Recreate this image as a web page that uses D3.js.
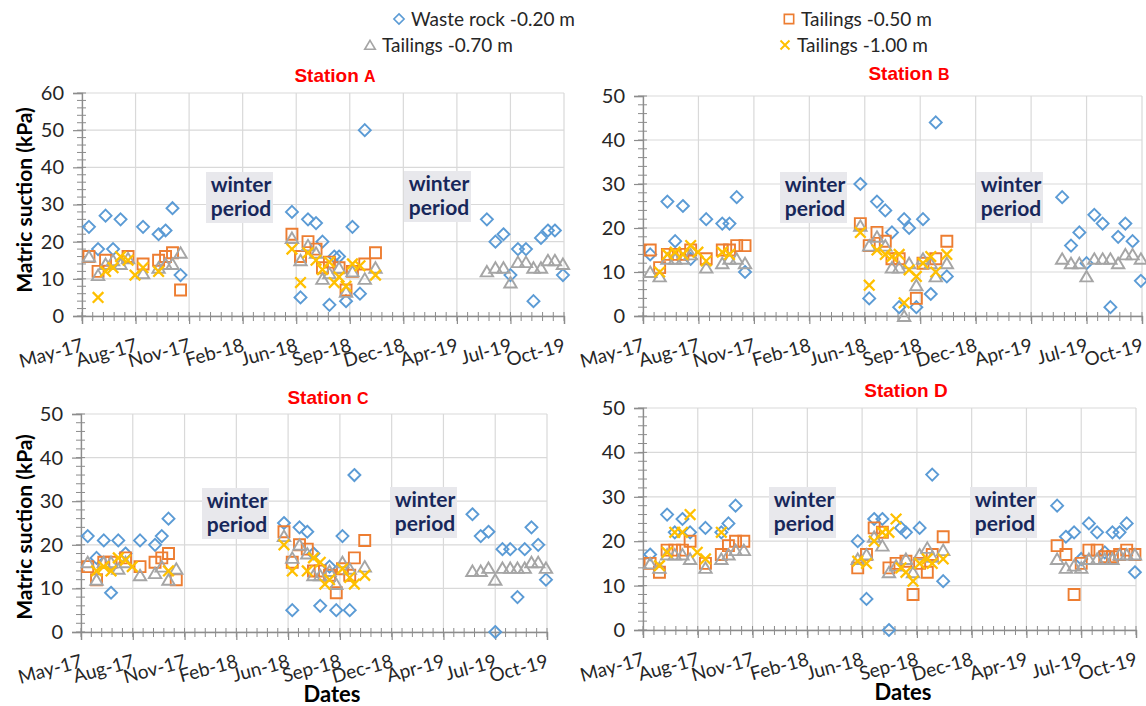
<!DOCTYPE html>
<html><head><meta charset="utf-8">
<script src="https://cdn.jsdelivr.net/npm/d3@7"></script>
<style>body{margin:0;background:#fff} svg{display:block}</style>
</head><body>
<svg id="chart" width="1146" height="706"></svg>
<script>
// ---------- DATA ----------
const seriesNames = ["Waste rock -0.20 m", "Tailings -0.50 m", "Tailings -0.70 m", "Tailings -1.00 m"];
const tickLabels = ["May-17","Aug-17","Nov-17","Feb-18","Jun-18","Sep-18","Dec-18","Apr-19","Jul-19","Oct-19"];
const tickDates = ["2017-05-01","2017-08-09","2017-11-17","2018-02-25","2018-06-05","2018-09-13","2018-12-22","2019-04-01","2019-07-10","2019-10-18"];
const dates = [
 "2017-05-14","2017-05-31","2017-06-14","2017-06-28","2017-07-12","2017-07-26","2017-08-08","2017-08-23","2017-09-21","2017-10-04","2017-10-17","2017-11-01",
 "2018-05-28","2018-06-13","2018-06-27","2018-07-12","2018-07-24","2018-08-06","2018-08-15","2018-08-24","2018-09-06","2018-09-18","2018-10-02","2018-10-11","2018-10-31",
 "2019-05-27","2019-06-12","2019-06-27","2019-07-10","2019-07-24","2019-08-08","2019-08-22","2019-09-05","2019-09-18","2019-10-01","2019-10-16"];
const _ = null;
// Station A
const stationA_waste = [24,18,27,18,26,_,_,24,22,23,29,11, 28,5,26,25,20,3,16,16,4,24,6,50,_, 26,20,22,11,18,18,4,21,23,23,11];
const stationA_t050  = [16,12,15,_,_,16,_,14,15,16,17,7, 22,16,20,18,13,14.5,_,13,7,12,_,14,17, _,_,_,_,_,_,_,_,_,_,_];
const stationA_t070  = [16,11,14,15,14,15.5,_,11.5,13,14,14,17, 21,15,19,17,10,11.5,_,13,6.5,12,_,10,13, 12,13,13,9,14.5,14.5,13,13,15,15,14];
const stationA_t100  = [_,5,12,13,16,15,11,13,12,_,_,_, 18,9,17,15,12.5,14.5,9,10.5,8,14,13.5,_,11, _,_,_,_,_,_,_,_,_,_,_];
// Station B
const stationB_waste = [14,_,26,17,25,13,_,22,21,21,27,10, 30,4,26,24,19,2,22,20,2,22,5,44,9, 27,16,19,12,23,21,2,18,21,17,8];
const stationB_t050  = [15,11,14,14,14,15,_,13,15,15,16,16, 21,16,19,17,13,13,_,_,4,12,_,13,17, _,_,_,_,_,_,_,_,_,_,_];
const stationB_t070  = [10,9,13,13,13,14,_,11,12,13,13,12, 20.5,16,18,16,11,11,0,12,7,13,12,9,12, 13,12,12,9,13,13,13,12,14,14,13];
const stationB_t100  = [_,10,14,14.5,14,16,14.5,12.5,14.5,14,_,_, 19,7,15,14,13.5,14,3,10.5,9,12,13.5,10,14, _,_,_,_,_,_,_,_,_,_,_];
// Station C
const stationC_waste = [22,17,21,9,21,18,_,21,20,22,26,_, 25,5,24,23,18,6,_,15,5,22,5,36,_, 27,22,23,0,19,19,8,19,24,20,12];
const stationC_t050  = [15,12,16,16,_,17,_,15,16,17,18,12, 23,16,20,19,14,14,_,13,9,14.5,13,17,21, _,_,_,_,_,_,_,_,_,_,_];
const stationC_t070  = [16,12,16,16,14.5,16,_,13,13.5,15,12,14.5, 22,17,20,18,13,13,_,14,11,16,14.5,_,15, 14,14,14.7,12,14.7,14.7,14.7,14.7,16,16,14.7];
const stationC_t100  = [_,14,15,14,17,16.5,15,_,_,_,14,_, 20,14,_,14,17,16,11,12,_,14.5,12.5,11,13, _,_,_,_,_,_,_,_,_,_,_];
// Station D
const stationD_waste = [17,_,26,22,25,22,_,23,22,24,28,_, 20,7,25,25,0,_,23,22,_,23,_,35,11, 28,21,22,16,24,22,17.5,22,22,24,13];
const stationD_t050  = [15,13,18,18,18,20,_,15,17,19,20,20, 14,17,23,22,14,15,_,15.5,8,15,13,17,21, 19,17,8,15,18,18,16.5,16.5,17,18,17];
const stationD_t070  = [15,14,17,17,17,16,_,14,16,17,18,18, 16,17,21,19,13,14.5,_,16,13,17,18.5,16.5,18, 16,14,14.5,14,16,16,16,16,17,17,17];
const stationD_t100  = [_,14.5,17.5,22,22,26,17.5,16,22,_,_,_, 15.5,15,20,22,22,25,14,13,11,15,16,15,16, _,_,_,_,_,_,_,_,_,_,_];

// ---------- LAYOUT / STYLE ----------
const parse = d3.timeParse("%Y-%m-%d");
const colors = ["#5B9BD5", "#ED7D31", "#A5A5A5", "#FFC000"];
const shapes = ["diamond", "square", "triangle", "cross"];
const FONT = "Lato, 'Open Sans', sans-serif";
const svg = d3.select("#chart");

function markerPath(shape) {
  switch (shape) {
    case "diamond": return "M0,-6L6,0L0,6L-6,0Z";
    case "square": return "M-5.5,-5.5H5.5V5.5H-5.5Z";
    case "triangle": return "M0,-5.5L6.2,5L-6.2,5Z";
    default: return "M-5.3,-5.3L5.3,5.3M5.3,-5.3L-5.3,5.3";
  }
}
function strokeW(shape) { return shape === "cross" ? 2.3 : 1.9; }

const panels = [
  { label: "A", small: true, values: [stationA_waste, stationA_t050, stationA_t070, stationA_t100],
    left: 82, right: 564, top: 93, bottom: 316, ymax: 60, titleX: 335, titleY: 82,
    winter: [[206, 172], [404, 171]], yTitle: [25, 200], xTitle: null },
  { label: "B", small: true, values: [stationB_waste, stationB_t050, stationB_t070, stationB_t100],
    left: 643, right: 1142, top: 96, bottom: 316, ymax: 50, titleX: 909, titleY: 80,
    winter: [[780, 172], [976, 172]], yTitle: null, xTitle: null },
  { label: "C", small: true, values: [stationC_waste, stationC_t050, stationC_t070, stationC_t100],
    left: 81, right: 547, top: 414, bottom: 632, ymax: 50, titleX: 328, titleY: 404,
    winter: [[202, 488], [390, 487]], yTitle: [25, 527], xTitle: [332, 702] },
  { label: "D", small: false, values: [stationD_waste, stationD_t050, stationD_t070, stationD_t100],
    left: 643, right: 1136, top: 408, bottom: 630, ymax: 50, titleX: 906, titleY: 397,
    winter: [[769, 487], [970, 487]], yTitle: null, xTitle: [903, 700] }
];

const xStart = parse(tickDates[0]), xEnd = parse(tickDates[tickDates.length - 1]);
const tickDateObjs = tickDates.map(parse);
const minorX = d3.timeDay.range(xStart, d3.timeDay.offset(xEnd, 1), 20);

panels.forEach(p => {
  const x = d3.scaleTime().domain([xStart, xEnd]).range([p.left, p.right]);
  const y = d3.scaleLinear().domain([0, p.ymax]).range([p.bottom, p.top]);
  const g = svg.append("g");
  const majorY = d3.range(0, p.ymax + 0.01, 10);
  const minorY = d3.range(0, p.ymax + 0.01, 2);

  // grid
  g.append("g").selectAll("line").data(majorY).join("line")
    .attr("x1", p.left).attr("x2", p.right).attr("y1", d => y(d)).attr("y2", d => y(d))
    .attr("stroke", "#d9d9d9").attr("stroke-width", 1.2);
  g.append("g").selectAll("line").data(tickDateObjs).join("line")
    .attr("x1", d => x(d)).attr("x2", d => x(d)).attr("y1", p.top).attr("y2", p.bottom)
    .attr("stroke", "#d9d9d9").attr("stroke-width", 1.2);

  // y axis
  const ya = g.append("g").attr("transform", `translate(${p.left},0)`)
    .call(d3.axisLeft(y).tickValues(majorY).tickSize(9).tickPadding(9).tickFormat(d3.format("d")));
  ya.select(".domain").attr("stroke", "#8c8c8c").attr("stroke-width", 1.3);
  ya.selectAll(".tick line").attr("stroke", "#8c8c8c").attr("stroke-width", 1.2);
  ya.selectAll("text").attr("font-family", FONT).attr("font-size", 20).attr("fill", "#262626");
  g.append("g").selectAll("line").data(minorY).join("line")
    .attr("x1", p.left - 5).attr("x2", p.left + 4).attr("y1", d => y(d)).attr("y2", d => y(d))
    .attr("stroke", "#8c8c8c").attr("stroke-width", 1);

  // x axis
  const xa = g.append("g").attr("transform", `translate(0,${p.bottom})`)
    .call(d3.axisBottom(x).tickValues(tickDateObjs).tickSize(8).tickFormat((d, i) => tickLabels[i]));
  xa.select(".domain").attr("stroke", "#8c8c8c").attr("stroke-width", 1.3);
  xa.selectAll(".tick line").attr("stroke", "#8c8c8c").attr("stroke-width", 1.2);
  xa.selectAll("text").attr("font-family", FONT).attr("font-size", 19).attr("fill", "#262626")
    .attr("text-anchor", "end").attr("y", 0).attr("dy", 0)
    .attr("transform", "translate(2,35) rotate(-15)");
  g.append("g").selectAll("line").data(minorX).join("line")
    .attr("x1", d => x(d)).attr("x2", d => x(d)).attr("y1", p.bottom - 4).attr("y2", p.bottom + 5)
    .attr("stroke", "#8c8c8c").attr("stroke-width", 1);

  // winter boxes
  p.winter.forEach(([bx, by]) => {
    const wb = g.append("g").attr("transform", `translate(${bx},${by})`);
    wb.append("rect").attr("width", 67).attr("height", 51).attr("fill", "#e8e8ec");
    wb.append("text").attr("x", 35).attr("y", 20).attr("text-anchor", "middle")
      .attr("font-family", FONT).attr("font-weight", 700).attr("font-size", 21).attr("fill", "#17275a").text("winter");
    wb.append("text").attr("x", 35).attr("y", 44).attr("text-anchor", "middle")
      .attr("font-family", FONT).attr("font-weight", 700).attr("font-size", 21).attr("fill", "#17275a").text("period");
  });

  // points
  p.values.forEach((vals, si) => {
    const pts = dates.map((d, i) => ({ d: parse(d), v: vals[i] })).filter(o => o.v !== null);
    g.append("g").selectAll("path").data(pts).join("path")
      .attr("transform", o => `translate(${x(o.d)},${y(o.v)})`)
      .attr("d", markerPath(shapes[si]))
      .attr("fill", "none").attr("stroke", colors[si]).attr("stroke-width", strokeW(shapes[si]));
  });

  // title
  const t = g.append("text").attr("x", p.titleX).attr("y", p.titleY).attr("text-anchor", "middle")
    .attr("font-family", "'Liberation Sans', Arial, sans-serif").attr("font-weight", 700)
    .attr("font-size", 19).attr("fill", "#ff0000");
  t.append("tspan").text("Station ");
  t.append("tspan").attr("font-size", p.small ? 16 : 19).text(p.label);

  if (p.yTitle) {
    g.append("text").attr("transform", `translate(${p.yTitle[0]},${p.yTitle[1]}) rotate(-90)`)
      .attr("text-anchor", "middle").attr("dy", "0.35em")
      .attr("font-family", FONT).attr("font-weight", 700).attr("font-size", 21).attr("fill", "#000")
      .text("Matric suction (kPa)");
  }
  if (p.xTitle) {
    g.append("text").attr("x", p.xTitle[0]).attr("y", p.xTitle[1]).attr("text-anchor", "middle")
      .attr("font-family", FONT).attr("font-weight", 700).attr("font-size", 22).attr("fill", "#000")
      .text("Dates");
  }
});

// legend
const legendPos = [[399, 19], [789, 19], [370, 45], [785, 45]];
const lg = svg.append("g");
seriesNames.forEach((name, i) => {
  const [lx, ly] = legendPos[i];
  lg.append("path").attr("transform", `translate(${lx},${ly}) scale(0.85)`).attr("d", markerPath(shapes[i]))
    .attr("fill", "none").attr("stroke", colors[i]).attr("stroke-width", strokeW(shapes[i]));
  lg.append("text").attr("x", lx + 12).attr("y", ly).attr("dy", "0.35em")
    .attr("font-family", FONT).attr("font-size", 19).attr("fill", "#262626").text(name);
});
</script>
</body></html>
